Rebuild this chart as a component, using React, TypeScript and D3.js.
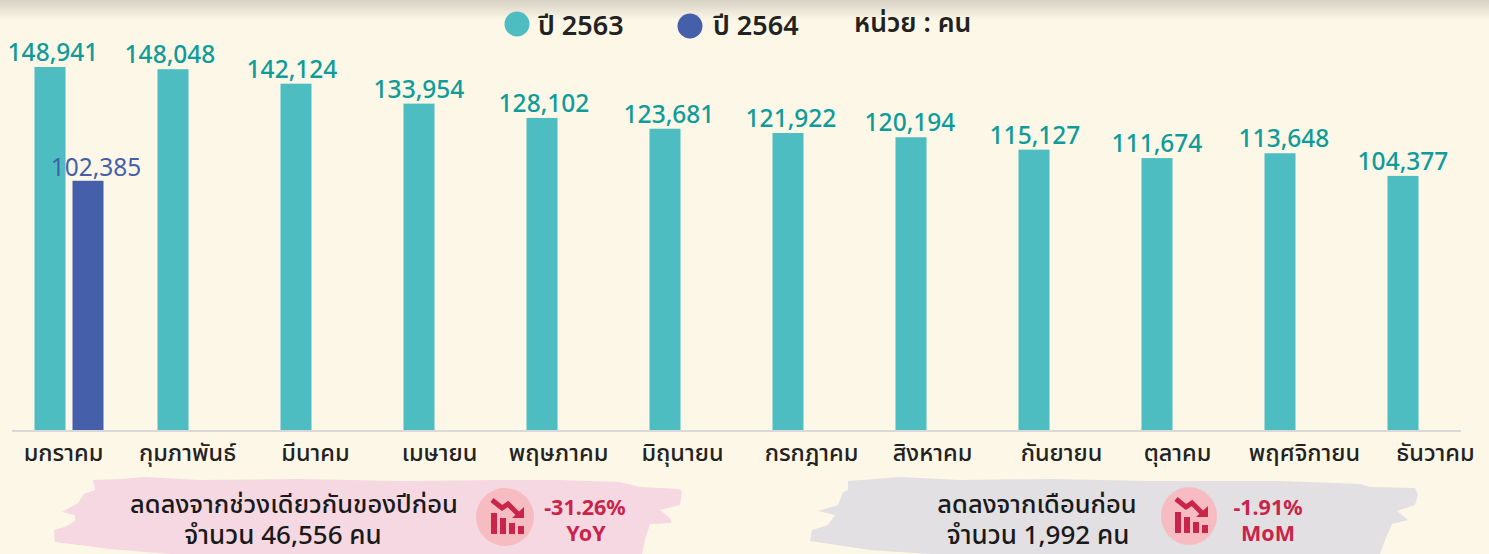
import React from "react";
import * as d3 from "d3";

const months = ["มกราคม","กุมภาพันธ์","มีนาคม","เมษายน","พฤษภาคม","มิถุนายน","กรกฎาคม","สิงหาคม","กันยายน","ตุลาคม","พฤศจิกายน","ธันวาคม"];
const y2563 = [148941,148048,142124,133954,128102,123681,121922,120194,115127,111674,113648,104377];
const y2564 = [102385];
const monthNudge = [-5,-4,1,2,-2,-1,5,3,9,2,6,14];
const labelNudge = [3,-3,-4,0,2,4,3,-1,1,0,4,0];

const W = 1489, H = 554;
const FONT = "'Noto Sans', 'Noto Sans Thai', Lato, sans-serif";
const TEAL = "#4DBDC1", NAVY = "#465FAB", TEALTXT = "#0E9C9A", RED = "#C9244A";

const x = d3.scaleBand<number>().domain(d3.range(12)).range([7, 1483]).padding(0);
const y = d3.scaleLinear().domain([0, 148941]).range([431, 67]);
const barW = 31, gap = 6;

const pinkBrush = "M93 480 L120 479 L145 477 L200 480 L300 479 L400 481 L500 480 L560 480 L620 482 L640 487 L680 489 L682 493 L680 505 L660 510 L670 518 L672 523 L650 524 L645 540 L642 554 L170 554 L110 549 L55 542 L54 530 L65 527 L75 521 L75 515 L62 512 L78 503 L84 494 L95 490 Z";
const greyBrush = "M848 481 L875 479 L900 477 L960 480 L1050 479 L1150 481 L1280 481 L1360 484 L1370 487 L1415 488 L1418 495 L1415 505 L1397 511 L1408 520 L1392 524 L1385 540 L1380 554 L930 554 L870 550 L810 541 L812 530 L828 525 L835 515 L818 511 L838 505 L843 492 L848 490 Z";

function Icon({ cx, cy, rx, ry }: { cx: number; cy: number; rx: number; ry: number }) {
  const bars: [number, number][] = [[-14, 21], [-5, 16], [4, 11], [13, 8]];
  return (
    <g transform={`translate(${cx},${cy})`}>
      <ellipse rx={rx} ry={ry} fill="#F7BCC1" />
      {bars.map(([bx, h], i) => (
        <rect key={i} x={bx} y={17 - h} width={6} height={h} fill={RED} />
      ))}
      <path d="M-13 -17 L-3 -9 L3 -13 L14 -2" fill="none" stroke={RED} strokeWidth={5} />
      <path d="M19 -10 L19 1 L7 1 Z" fill={RED} />
    </g>
  );
}

export default function App() {
  return (
    <svg width={W} height={H} style={{ position: "absolute", left: 0, top: 0, fontFamily: FONT }}>
      <defs>
        <linearGradient id="shade" x1="0" y1="0" x2="0" y2="1">
          <stop offset="0" stopColor="#D6D1C3" />
          <stop offset="1" stopColor="#FDF7E7" />
        </linearGradient>
      </defs>
      <rect width={W} height={H} fill="#FDF7E7" />
      <rect width={W} height={20} fill="url(#shade)" />

      <circle cx={517} cy={24} r={12.5} fill={TEAL} />
      <text x={538} y={35} fontSize={27} fontWeight={600} fill="#222">ปี 2563</text>
      <circle cx={690} cy={26} r={12.5} fill={NAVY} />
      <text x={713} y={35} fontSize={27} fontWeight={600} fill="#222">ปี 2564</text>
      <text x={854} y={32} fontSize={26.5} fontWeight={600} fill="#222">หน่วย : คน</text>

      {y2563.map((v, i) => (
        <g key={i}>
          <rect x={x(i)! + x.bandwidth() / 2 - barW - gap / 2} y={y(v)} width={barW} height={431 - y(v)} fill={TEAL} />
          <text x={x(i)! + x.bandwidth() / 2 - barW / 2 - gap / 2 + labelNudge[i]} y={y(v) - 6} textAnchor="middle" fontSize={24.5} fontWeight={500} fill={TEALTXT}>{d3.format(",")(v)}</text>
        </g>
      ))}
      {y2564.map((v, i) => (
        <g key={i}>
          <rect x={x(i)! + x.bandwidth() / 2 + gap / 2 + 1} y={y(v)} width={barW} height={431 - y(v)} fill={NAVY} />
          <text x={96} y={y(v) - 5} textAnchor="middle" fontSize={24.5} fill={NAVY}>{d3.format(",")(v)}</text>
        </g>
      ))}

      <line x1={12} x2={1461} y1={431} y2={431} stroke="#D9D9D9" strokeWidth={2} />
      {months.map((m, i) => (
        <text key={m} x={x(i)! + x.bandwidth() / 2 + monthNudge[i]} y={461} textAnchor="middle" fontSize={23.5} fontWeight={500} fill="#222">{m}</text>
      ))}

      <path d={pinkBrush} fill="#F5D8E2" />
      <path d={greyBrush} fill="#E2E0E2" />
      <text x={294} y={513} textAnchor="middle" fontSize={25.5} fontWeight={500} fill="#1a1a1a">ลดลงจากช่วงเดียวกันของปีก่อน</text>
      <text x={283} y={544} textAnchor="middle" fontSize={26} fontWeight={500} fill="#1a1a1a">จำนวน 46,556 คน</text>
      <Icon cx={505} cy={517} rx={29} ry={29} />
      <text x={585} y={515} textAnchor="middle" fontSize={21.5} fontWeight={700} fill={RED}>-31.26%</text>
      <text x={586} y={541} textAnchor="middle" fontSize={21.5} fontWeight={700} fill={RED}>YoY</text>

      <text x={1037} y={513} textAnchor="middle" fontSize={25.5} fontWeight={500} fill="#1a1a1a">ลดลงจากเดือนก่อน</text>
      <text x={1038} y={544} textAnchor="middle" fontSize={26} fontWeight={500} fill="#1a1a1a">จำนวน 1,992 คน</text>
      <Icon cx={1189} cy={516} rx={28} ry={29} />
      <text x={1268} y={515} textAnchor="middle" fontSize={21.5} fontWeight={700} fill={RED}>-1.91%</text>
      <text x={1268} y={541} textAnchor="middle" fontSize={21.5} fontWeight={700} fill={RED}>MoM</text>
    </svg>
  );
}
